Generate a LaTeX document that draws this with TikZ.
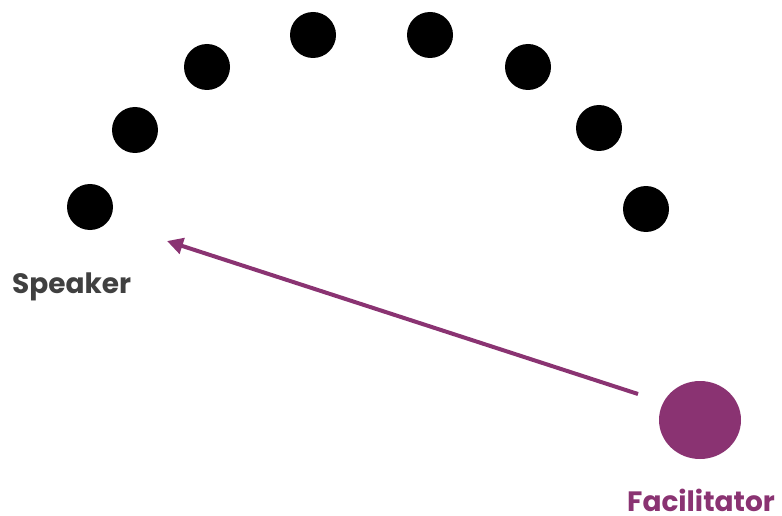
\documentclass[tikz,border=0pt]{standalone}
\usepackage{fontspec}
\setmainfont{Poppins}
\usetikzlibrary{arrows.meta,shapes.geometric}
\definecolor{facpurple}{RGB}{138,51,114}
\definecolor{spkgray}{RGB}{64,64,64}

\begin{document}
\begin{tikzpicture}[x=1pt,y=-1pt,
    seat/.style={circle,fill=black,minimum size=46pt,inner sep=0pt},
    facseat/.style={ellipse,fill=facpurple,minimum width=82pt,minimum height=78pt,inner sep=0pt},
    rolelabel/.style={anchor=base west,inner sep=0pt,font=\fontsize{28}{30}\selectfont\bfseries}]
    \useasboundingbox (0,0) rectangle (782,516);
    % the circle of seats
    \foreach \name/\x/\y in {seat1/90/207, seat2/135/130, seat3/207/67, seat4/313/35,
        seat5/430/35, seat6/528/67, seat7/599/128, seat8/646/209}
        \node[seat] (\name) at (\x,\y) {};
    \node[facseat] (fac) at (700,420) {};
    \node[rolelabel,text=spkgray] (speaker) at (12,293) {Speaker};
    \node[rolelabel,text=facpurple] (faclabel) at (627,511) {Facilitator};
    % facilitator passes to speaker
    \coordinate (from) at (638,394);
    \coordinate (to) at (167,241);
    \draw[facpurple,line width=4pt,-{Triangle[length=16pt,width=16pt]}] (from) -- (to);
\end{tikzpicture}
\end{document}
